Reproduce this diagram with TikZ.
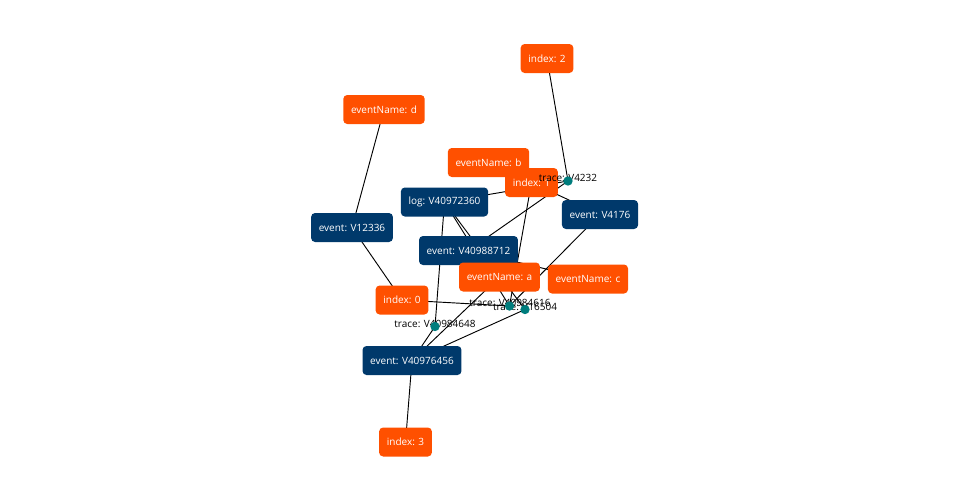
\documentclass[tikz,border=0pt]{standalone}
\usepackage{fontspec}
\setmainfont{Open Sans}
\pgfdeclarelayer{bg}
\pgfsetlayers{bg,main}
\definecolor{evorange}{RGB}{255,80,0}
\definecolor{evblue}{RGB}{0,57,107}
\definecolor{evteal}{RGB}{0,125,125}
\begin{document}
\begin{tikzpicture}[x=0.75pt,y=-0.75pt,
  font=\fontsize{7.5}{9}\selectfont,
  box/.style={rounded corners=3pt, text=white, minimum height=21.75pt, inner xsep=5.8pt, inner ysep=0pt},
  attr/.style={box, fill=evorange},
  ent/.style={box, fill=evblue},
  dot/.style={circle, fill=evteal, minimum size=7pt, inner sep=0pt},
  dotlabel/.style={text=black, inner sep=0pt},
  link/.style={draw=black, line width=0.7pt}]
\useasboundingbox (0,0) rectangle (960,500);

% attribute nodes (orange) and entity nodes (blue)
\node[attr] (idx2) at (547,58.5) {index: 2};
\node[attr] (evd) at (384,109.5) {eventName: d};
\node[ent] (v12336) at (352,227.5) {event: V12336};
\node[attr] (evb) at (488.5,162.5) {eventName: b};
\node[attr] (idx1) at (531.5,182.5) {index: 1};
\node[ent] (log) at (444.5,202) {log: V40972360};
\node[ent] (v4176) at (600,214.5) {event: V4176};
\node[ent] (v40988712) at (468.5,250.5) {event: V40988712};
\node[attr] (eva) at (499.5,277) {eventName: a};
\node[attr] (evc) at (588,279) {eventName: c};
\node[attr] (idx0) at (402,300) {index: 0};
\node[ent] (v40976456) at (412,360.5) {event: V40976456};
\node[attr] (idx3) at (405.5,442) {index: 3};

% trace nodes
\node[dotlabel] (l4232) at (568,178) {trace: V4232};
\node[dot] (t4232) at (568,181) {};
\node[dotlabel] (l504) at (525,306.5) {trace: V16504};
\node[dotlabel] (l616) at (510,303) {trace: V40984616};
\node[dot] (t616) at (509.5,306) {};
\node[dot] (t504) at (525,309.5) {};
\node[dotlabel] (l648) at (435,324) {trace: V40984648};
\node[dot] (t648) at (435,326.5) {};

\begin{pgfonlayer}{bg}
\draw[link] (idx2.center) -- (t4232.center);
\draw[link] (evd.center) -- (v12336.center);
\draw[link] (v12336.center) -- (idx0.center);
\draw[link] (log.center) -- (t4232.center);
\draw[link] (evb.center) -- (v4176.center);
\draw[link] (v4176.center) -- (t616.center);
\draw[link] (t4232.center) -- (v40988712.center);
\draw[link] (idx1.center) -- (t616.center);
\draw[link] (log.center) -- (t616.center);
\draw[link] (log.center) -- (t504.center);
\draw[link] (log.center) -- (t648.center);
\draw[link] (t648.center) -- (v40976456.center);
\draw[link] (v40976456.center) -- (eva.center);
\draw[link] (v40976456.center) -- (t504.center);
\draw[link] (v40976456.center) -- (idx3.center);
\draw[link] (idx0.center) -- (t616.center);
\draw[link] (v40988712.center) -- (evc.center);
\end{pgfonlayer}
\end{tikzpicture}
\end{document}
